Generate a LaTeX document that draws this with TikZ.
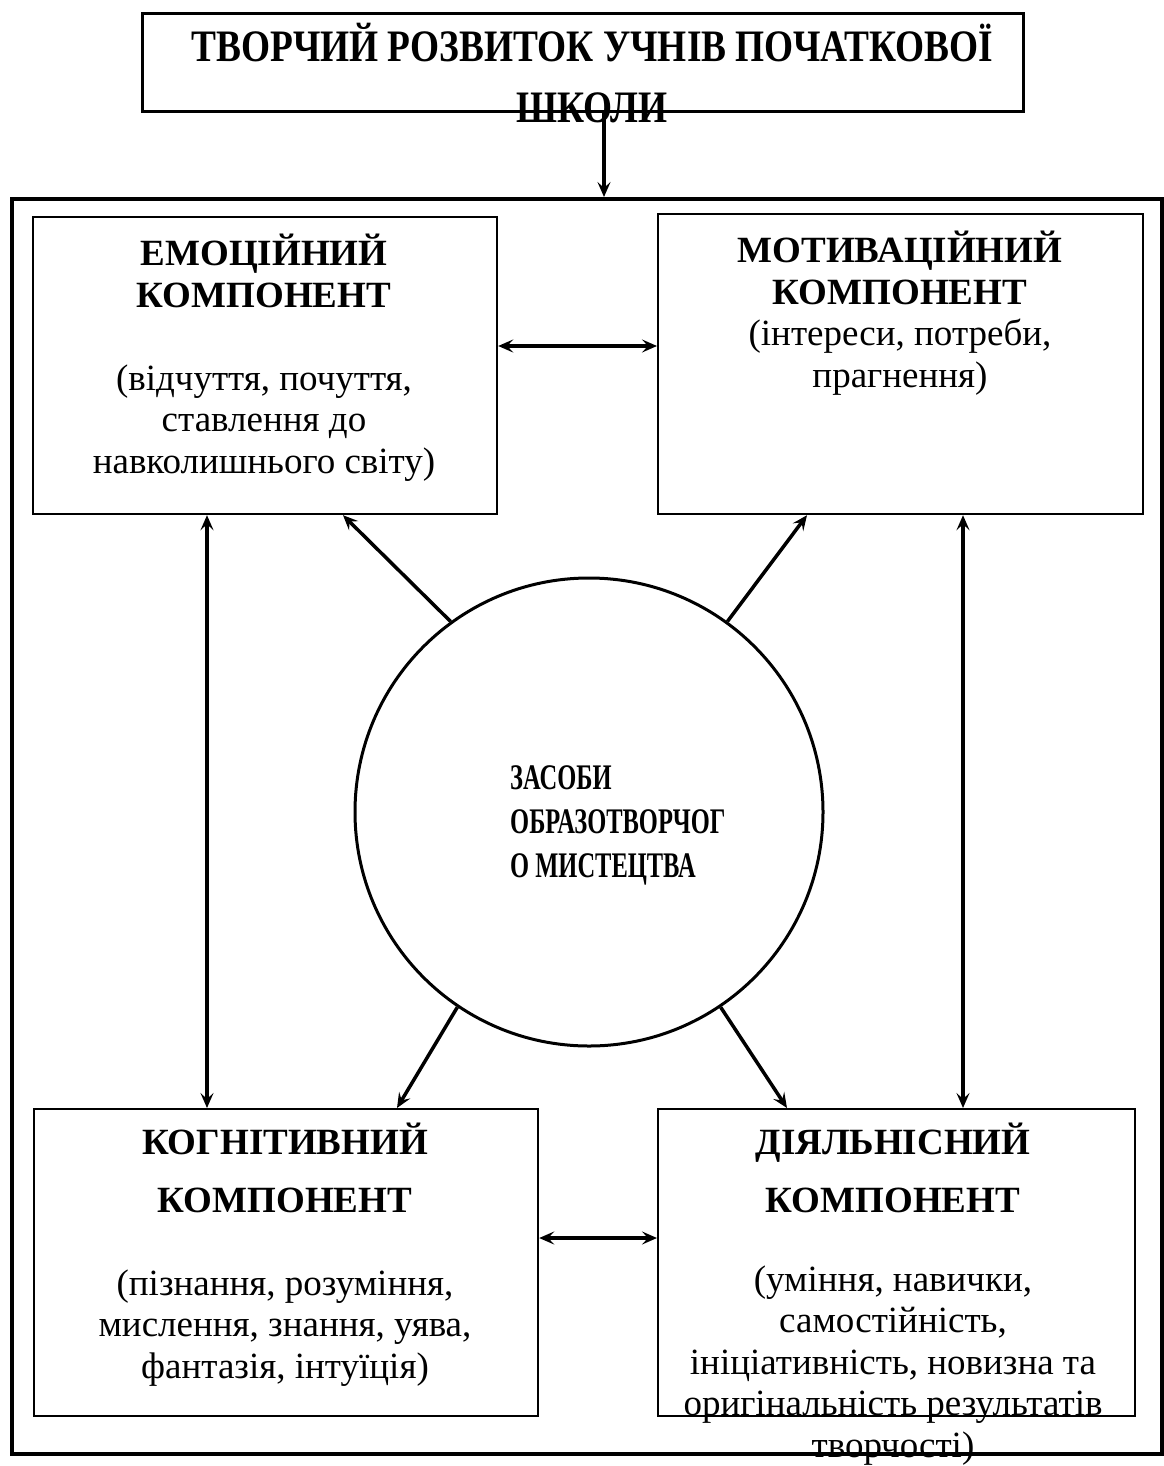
\documentclass[tikz,border=0pt]{standalone}
\usepackage{fontspec}
\setmainfont{Liberation Serif}
\newfontfamily\condfont{Liberation Serif}[FakeStretch=0.83]
\newfontfamily\circfont{Liberation Serif}[FakeStretch=0.68]
\usetikzlibrary{arrows.meta,calc}
\begin{document}
\begin{tikzpicture}[x=1pt,y=-1pt,
  bx/.style={draw,line width=2.2pt,inner sep=0pt,anchor=north west},
  txt/.style={align=center,inner sep=0pt,anchor=base,font=\fontsize{37}{41.5}\selectfont},
  arr/.style={line width=3.5pt,-{Stealth[length=15pt,width=13pt,inset=6pt]}},
  darr/.style={line width=3.5pt,{Stealth[length=15pt,width=13pt,inset=6pt]}-{Stealth[length=15pt,width=13pt,inset=6pt]}}]
\useasboundingbox (0,0) rectangle (1163,1466);
% title
\node[draw,line width=3pt,inner sep=0pt,anchor=north west,minimum width=881pt,minimum height=98pt] (tb) at (141,12) {};
\node[align=center,inner sep=0pt,anchor=base,font=\condfont\bfseries\fontsize{45}{61}\selectfont] (tt) at (592,123) {ТВОРЧИЙ РОЗВИТОК УЧНІВ ПОЧАТКОВОЇ\\ШКОЛИ};
% outer
\node[draw,line width=4pt,inner sep=0pt,anchor=north west,minimum width=1150pt,minimum height=1255pt] (outer) at (10,197) {};
% boxes
\node[bx,minimum width=464pt,minimum height=297pt] (em) at (32,216) {};
\node[bx,minimum width=485pt,minimum height=300pt] (mot) at (657,213) {};
\node[bx,minimum width=504pt,minimum height=307pt] (kog) at (33,1108) {};
\node[bx,minimum width=477pt,minimum height=307pt] (diy) at (657,1108) {};
% texts
\node[txt] (emt) at (264,473) {\textbf{ЕМОЦІЙНИЙ}\\\textbf{КОМПОНЕНТ}\\[41.5pt](відчуття, почуття,\\ставлення до\\навколишнього світу)};
\node[txt] (mott) at (900,387) {\textbf{МОТИВАЦІЙНИЙ}\\\textbf{КОМПОНЕНТ}\\(інтереси, потреби,\\прагнення)};
\node[txt] (kogt) at (285,1378) {\textbf{КОГНІТИВНИЙ}\\[16pt]\textbf{КОМПОНЕНТ}\\[41.5pt](пізнання, розуміння,\\мислення, знання, уява,\\фантазія, інтуїція)};
\node[txt] (diyt) at (893,1457) {\textbf{ДІЯЛЬНІСНИЙ}\\[16pt]\textbf{КОМПОНЕНТ}\\[37.5pt](уміння, навички,\\самостійність,\\ініціативність, новизна та\\оригінальність результатів\\творчості)};
% circle
\node[draw,circle,line width=3pt,minimum size=468pt,inner sep=0pt] (circ) at (589,812) {};
\node[align=left,inner sep=0pt,anchor=base west,font=\circfont\bfseries\fontsize{36}{44}\selectfont] (ct) at (510,877) {ЗАСОБИ\\ОБРАЗОТВОРЧОГ\\О МИСТЕЦТВА};
% coordinates
\coordinate (ax) at (604,0);
\coordinate (p1) at (343,0);
\coordinate (p2) at (807,0);
\coordinate (p3) at (397,0);
\coordinate (p4) at (787,0);
\coordinate (vl) at (207,0);
\coordinate (vr) at (963,0);
\coordinate (ht) at (0,346);
\coordinate (hb) at (0,1238);
% arrows
\draw[arr] (tb.south -| ax) -- (outer.north -| ax);
\draw[darr] (em.east |- ht) -- (mot.west |- ht);
\draw[darr] (kog.east |- hb) -- (diy.west |- hb);
\draw[darr] (em.south -| vl) -- (kog.north -| vl);
\draw[darr] (mot.south -| vr) -- (diy.north -| vr);
\draw[arr] (circ.126.8) -- (em.south -| p1);
\draw[arr] (circ.54.7) -- (mot.south -| p2);
\draw[arr] (circ.-124.8) -- (kog.north -| p3);
\draw[arr] (circ.-56.2) -- (diy.north -| p4);
\end{tikzpicture}
\end{document}
